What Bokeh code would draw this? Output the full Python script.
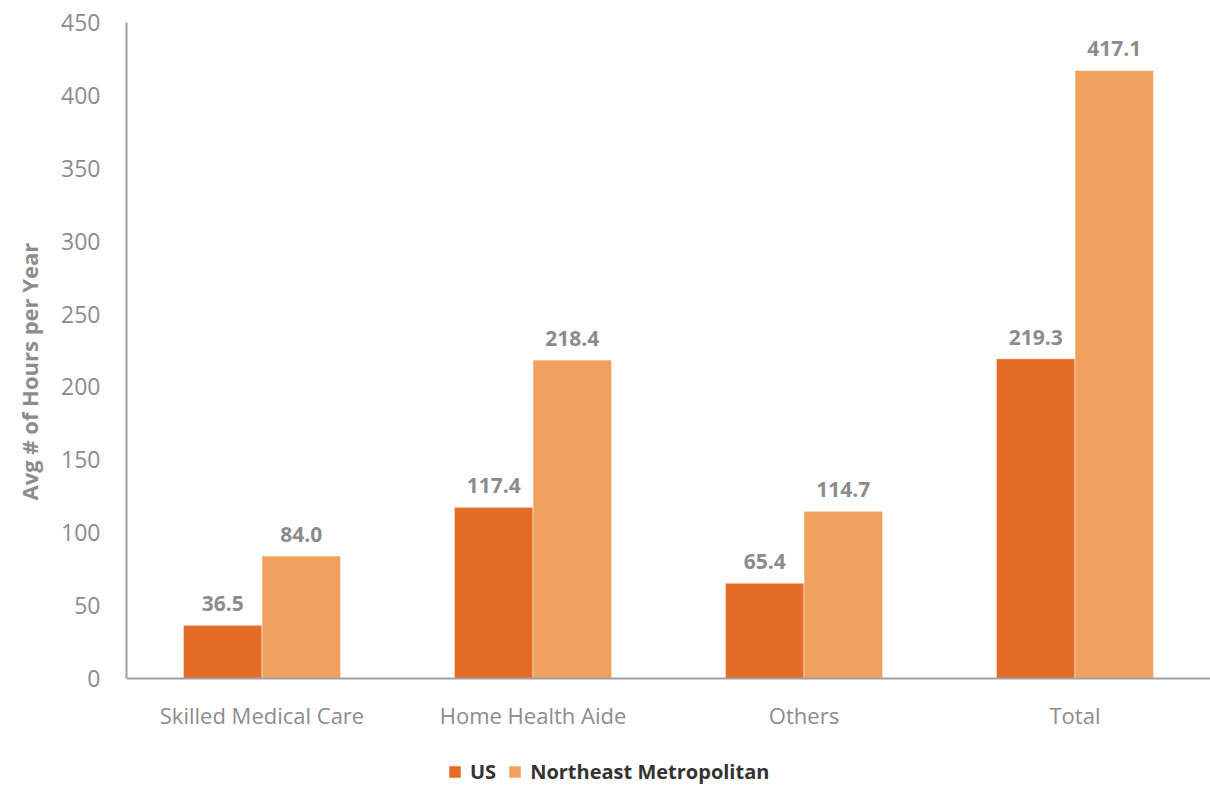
from bokeh.plotting import figure
from bokeh.models import ColumnDataSource, Range1d, FactorRange, Legend, LegendItem, SingleIntervalTicker, Title
from bokeh.transform import dodge
from bokeh.core.properties import value
from bokeh.embed import file_html
from bokeh.resources import INLINE

categories = ["Skilled Medical Care", "Home Health Aide", "Others", "Total"]
us_values = [36.5, 117.4, 65.4, 219.3]
ne_values = [84.0, 218.4, 114.7, 417.1]
series_names = ["US", "Northeast Metropolitan"]
y_label = "Avg # of Hours per Year"

us_color = "#E46C24"
ne_color = "#F0A15E"
gray = "#8C8C8C"
font = "Open Sans"

src = ColumnDataSource(dict(
    cat=categories,
    us=us_values,
    ne=ne_values,
    us_lbl=[f"{v:.1f}" for v in us_values],
    ne_lbl=[f"{v:.1f}" for v in ne_values],
))

# frame spans 22..785 px vertically; value 0 sits at y=678 px, 450 at y=22 px
p = figure(width=1210, height=785, x_range=FactorRange(*categories, range_padding=0),
           y_range=Range1d(-73.4, 450), output_backend="svg", toolbar_location=None,
           min_border_left=126, min_border_right=0, min_border_top=22, min_border_bottom=0)
p.outline_line_color = None
p.xgrid.grid_line_color = None
p.ygrid.grid_line_color = None

bw = 0.29
r_us = p.vbar(x=dodge("cat", -bw / 2, range=p.x_range), top="us", width=bw, source=src,
              fill_color=us_color, line_color="white", line_width=0.5)
r_ne = p.vbar(x=dodge("cat", bw / 2, range=p.x_range), top="ne", width=bw, source=src,
              fill_color=ne_color, line_color="white", line_width=0.5)

p.text(x=dodge("cat", -bw / 2, range=p.x_range), y="us", text="us_lbl", source=src,
       text_align="center", text_baseline="bottom", y_offset=-14,
       text_font=value(font), text_font_size="21px", text_font_style="bold", text_color=gray)
p.text(x=dodge("cat", bw / 2, range=p.x_range), y="ne", text="ne_lbl", source=src,
       text_align="center", text_baseline="bottom", y_offset=-14,
       text_font=value(font), text_font_size="21px", text_font_style="bold", text_color=gray)

p.xaxis.fixed_location = 0
p.yaxis.bounds = (0, 450)
p.yaxis.ticker = SingleIntervalTicker(interval=50)
for ax in (p.xaxis, p.yaxis):
    ax.axis_line_color = "#A0A0A2"
    ax.axis_line_width = 2
    ax.major_tick_line_color = None
    ax.minor_tick_line_color = None
    ax.major_label_text_font = font
    ax.major_label_text_color = gray
p.yaxis.major_label_text_font_size = "23px"
p.xaxis.major_label_text_font_size = "22px"
p.yaxis.major_label_standoff = 20
p.xaxis.major_label_standoff = 16

# y-axis title, placed as a left-side title so it can sit over the 0..450 span
p.add_layout(Title(text=y_label, align="left", vertical_align="top", offset=285, standoff=26,
                   text_font=font, text_font_size="22px", text_font_style="bold",
                   text_color=gray), "left")

legend = Legend(items=[LegendItem(label=series_names[0], renderers=[r_us]),
                       LegendItem(label=series_names[1], renderers=[r_ne])],
                orientation="horizontal", location=(321, 0),
                label_text_font=font, label_text_font_size="20px", label_text_font_style="bold",
                label_text_color="#333333", glyph_width=15, glyph_height=15,
                label_standoff=8, spacing=11, border_line_color=None, background_fill_alpha=0,
                padding=2, margin=0)
p.add_layout(legend, "center")

open("out.html", "w").write(file_html(p, INLINE))
